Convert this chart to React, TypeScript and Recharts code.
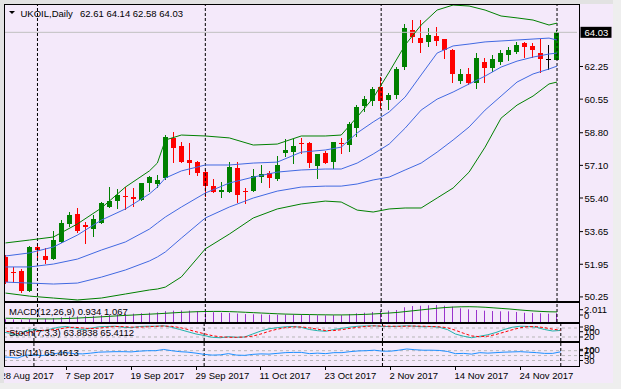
import { ComposedChart, Bar, Line, XAxis, YAxis, ReferenceLine } from "recharts";

const BG = "#F4E9FA";
const UP = "#008000";
const DOWN = "#FF0000";
const BAND_OUT = "#008000";
const BAND_IN = "#4169E1";
const HIST = "#9932CC";
const LEVEL = "#B8B8B8";
const FONT = "'Liberation Sans', Arial, sans-serif";
const FS = 9.5;

// UKOIL daily, 28 Aug 2017 .. 1 Dec 2017
const opens = [52.33, 51.57, 51.6, 50.56, 52.85, 52.38, 52.22, 53.11, 54.05, 54.57,
  53.97, 53.79, 54.1, 54.93, 55.24, 55.48, 55.43, 55.29, 56.18, 56.13,
  56.44, 58.52, 58.11, 57.38, 57.27, 56.75, 56.02, 55.71, 55.71, 56.96,
  55.74, 55.76, 56.49, 56.7, 56.39, 57.74, 57.79, 58.24, 58.26, 57.07,
  57.74, 57.27, 58.24, 58.16, 59.04, 60.19, 60.45, 61.18, 60.5, 60.76,
  62.22, 64.15, 63.73, 63.53, 63.84, 63.68, 63.11, 61.49, 61.86, 61.39,
  62.48, 62.17, 62.48, 62.85, 63.0, 63.47, 63.32, 62.95, 62.64, 62.61];
const highs = [52.43, 51.81, 51.7, 52.9, 53.0, 52.8, 53.68, 54.25, 54.67, 54.88,
  54.15, 54.51, 55.19, 55.97, 55.87, 55.97, 55.92, 56.2, 56.55, 56.6,
  58.68, 58.84, 58.32, 58.26, 57.33, 56.86, 56.39, 56.23, 57.27, 57.27,
  55.92, 56.91, 57.12, 56.81, 57.59, 58.47, 58.47, 58.52, 58.32, 57.71,
  57.85, 58.34, 58.52, 59.36, 60.24, 60.71, 61.18, 61.7, 60.87, 62.22,
  64.46, 64.67, 64.67, 64.25, 64.3, 63.7, 63.16, 62.12, 62.17, 62.95,
  62.69, 62.85, 63.11, 63.26, 63.53, 63.53, 63.47, 63.68, 63.37, 64.14];
const lows = [50.92, 50.97, 50.45, 50.5, 52.27, 51.96, 52.17, 53.06, 53.89, 53.58,
  53.0, 53.37, 54.05, 54.88, 54.83, 54.77, 54.93, 55.27, 55.71, 55.92,
  56.34, 57.22, 57.22, 56.6, 56.55, 55.45, 55.66, 55.4, 55.66, 55.14,
  55.09, 55.71, 56.18, 55.92, 56.29, 57.54, 57.17, 57.69, 56.96, 56.39,
  57.17, 56.91, 57.69, 57.79, 58.58, 59.88, 60.19, 60.04, 59.98, 60.55,
  62.07, 63.47, 62.95, 63.26, 63.32, 62.64, 61.39, 61.34, 61.29, 61.08,
  61.39, 61.96, 62.33, 62.54, 62.9, 62.69, 62.69, 61.91, 62.07, 62.58];
const closes = [51.03, 51.52, 50.56, 52.85, 52.69, 52.17, 53.21, 54.1, 54.51, 53.68,
  53.91, 54.3, 55.14, 55.24, 55.55, 55.43, 55.37, 56.18, 56.49, 56.34,
  58.58, 58.0, 57.27, 57.22, 56.7, 56.02, 55.71, 55.81, 57.01, 55.56,
  55.69, 56.55, 56.65, 56.44, 57.12, 57.9, 58.11, 58.19, 57.22, 57.69,
  57.22, 58.32, 58.19, 59.25, 60.14, 60.55, 61.08, 60.45, 60.76, 62.12,
  64.25, 63.79, 63.47, 63.89, 63.58, 63.11, 61.86, 61.86, 61.39, 62.69,
  62.17, 62.64, 62.95, 63.11, 63.37, 63.26, 63.11, 62.64, 62.64, 64.03];

// band values read at these bars
const bandIdx = [0, 3, 6, 9, 12, 15, 18, 19, 20, 22, 25, 28, 31, 34, 37, 40, 42, 44, 46, 48,
  50, 52, 54, 56, 58, 60, 62, 64, 66, 68, 69];
const outerUpper = [53.06, 53.21, 53.37, 54.05, 54.88, 55.97, 56.81, 57.22, 58.42, 58.68, 58.63,
  58.53, 58.16, 58.21, 58.63, 58.63, 58.68, 59.62, 60.61, 61.96, 63.37, 64.41, 65.19, 65.45,
  65.4, 65.19, 64.88, 64.78, 64.67, 64.41, 64.51];
const innerUpper = [52.38, 52.54, 52.85, 53.47, 54.25, 54.83, 55.61, 55.97, 56.44, 56.81, 57.12,
  57.12, 57.22, 57.27, 57.79, 57.9, 58.05, 58.79, 59.36, 59.88, 60.66, 61.81, 62.95, 63.32,
  63.42, 63.53, 63.58, 63.63, 63.68, 63.73, 63.63];
const middleBand = [51.81, 51.81, 51.96, 52.22, 52.69, 53.11, 53.78, 54.1, 54.41, 54.93, 55.66,
  56.18, 56.49, 56.75, 56.86, 56.91, 56.91, 57.22, 57.69, 58.21, 59.04, 59.98, 60.55, 60.92,
  61.34, 61.75, 62.22, 62.53, 62.74, 62.9, 62.95];
const innerLower = [51.02, 50.97, 50.92, 50.97, 51.28, 51.65, 52.12, 52.33, 52.59, 53.31, 54.36,
  54.93, 55.4, 55.76, 55.97, 56.02, 56.02, 56.13, 56.34, 56.49, 56.86, 57.22, 57.79, 58.42,
  59.1, 59.98, 60.71, 61.44, 61.86, 62.12, 62.27];
const outerLower = [50.45, 50.29, 50.19, 50.09, 50.19, 50.4, 50.61, 50.66, 50.76, 51.29, 52.75,
  53.52, 54.36, 54.83, 55.09, 55.24, 55.19, 54.77, 54.67, 54.83, 54.88, 54.88, 55.4, 55.92,
  56.75, 58.05, 59.56, 60.24, 60.71, 61.34, 61.44];

const macdHist = [0.3, 0.28, 0.25, 0.3, 0.35, 0.37, 0.42, 0.5, 0.57, 0.6,
  0.62, 0.65, 0.72, 0.78, 0.83, 0.86, 0.88, 0.93, 0.98, 1.02,
  1.15, 1.2, 1.22, 1.2, 1.16, 1.1, 1.04, 0.98, 0.96, 0.9,
  0.84, 0.82, 0.8, 0.77, 0.77, 0.79, 0.8, 0.8, 0.74, 0.71,
  0.7, 0.72, 0.72, 0.85, 0.92, 0.98, 1.06, 1.16, 1.2, 1.27,
  1.56, 1.69, 1.72, 1.77, 1.8, 1.72, 1.62, 1.45, 1.34, 1.27,
  1.2, 1.16, 1.13, 1.13, 1.06, 0.98, 0.95, 0.92, 0.88, 0.934];
const macdSignal = [0.4, 0.38, 0.36, 0.34, 0.33, 0.33, 0.33, 0.35, 0.38, 0.42,
  0.46, 0.5, 0.55, 0.6, 0.65, 0.7, 0.74, 0.79, 0.83, 0.87,
  0.92, 0.97, 1.02, 1.06, 1.09, 1.11, 1.12, 1.12, 1.1, 1.07,
  1.03, 0.99, 0.95, 0.91, 0.87, 0.84, 0.82, 0.8, 0.79, 0.77,
  0.76, 0.75, 0.75, 0.76, 0.78, 0.81, 0.85, 0.9, 0.95, 1.01,
  1.1, 1.19, 1.28, 1.37, 1.46, 1.53, 1.58, 1.61, 1.62, 1.6,
  1.56, 1.5, 1.44, 1.38, 1.3, 1.23, 1.17, 1.12, 1.08, 1.067];
const stochMain = [55, 45, 30, 62, 70, 60, 72, 85, 90, 80,
  70, 78, 88, 90, 92, 85, 82, 90, 92, 92,
  95, 85, 70, 55, 40, 30, 18, 15, 22, 18,
  20, 40, 60, 75, 82, 88, 90, 84, 70, 62,
  58, 70, 78, 86, 92, 94, 95, 90, 90, 92,
  95, 92, 88, 90, 85, 70, 40, 25, 15, 25,
  35, 50, 70, 85, 92, 90, 85, 70, 60, 63.88];
const stochSignal = [62, 55, 43, 46, 54, 64, 67, 72, 82, 85,
  80, 76, 79, 85, 90, 89, 86, 86, 88, 91,
  93, 91, 83, 70, 55, 42, 29, 21, 18, 18,
  20, 26, 40, 58, 72, 82, 87, 87, 81, 72,
  63, 63, 69, 78, 85, 91, 94, 93, 92, 91,
  92, 93, 92, 90, 88, 82, 65, 45, 27, 22,
  25, 37, 52, 68, 82, 89, 89, 82, 72, 65.41];
const rsi = [45, 43, 40, 52, 52, 50, 55, 60, 62, 58,
  57, 60, 64, 65, 66, 66, 65, 68, 70, 70,
  75, 70, 66, 64, 60, 55, 52, 53, 58, 52,
  51, 55, 57, 56, 59, 62, 63, 63, 58, 60,
  58, 62, 62, 66, 69, 70, 72, 68, 68, 72,
  77, 74, 72, 72, 71, 67, 58, 59, 56, 62,
  60, 62, 64, 65, 66, 64, 62, 59, 59, 65.46];

const bid = 64.03;
const priceTicks = [50.25, 51.95, 53.65, 55.4, 57.1, 58.8, 60.55, 62.25];
const dateIdx = [0, 8, 16, 24, 32, 40, 48, 56, 64];
const dateLabels = ["28 Aug 2017", "7 Sep 2017", "19 Sep 2017", "29 Sep 2017", "11 Oct 2017",
  "23 Oct 2017", "2 Nov 2017", "14 Nov 2017", "24 Nov 2017"];
const monthStarts = [4, 25, 47, 69];
const macdTicks = [2.011, 0];
const macdTickText = ["2.011", "0"];
const stochTicks = [100, 80, 20];
const stochLevels = [80, 20];
const rsiTicks = [100, 70, 50, 30];
const rsiLevels = [70, 50, 30];

const SLOTS = 72;
const rows = Array.from({ length: SLOTS }, (_, i) => {
  const r: any = { i };
  if (i < opens.length) {
    r.o = opens[i];
    r.h = highs[i];
    r.l = lows[i];
    r.c = closes[i];
    r.hl = [lows[i], highs[i]];
    r.macd = macdHist[i];
    r.sig = macdSignal[i];
    r.k = stochMain[i];
    r.d = stochSignal[i];
    r.rsi = rsi[i];
  }
  const k = bandIdx.indexOf(i);
  if (k >= 0) {
    r.gu = outerUpper[k];
    r.bu = innerUpper[k];
    r.mid = middleBand[k];
    r.bl = innerLower[k];
    r.gl = outerLower[k];
  }
  return r;
});

const Candle = (p: any) => {
  const { x, y, width, height, payload } = p;
  if (!payload || payload.o == null) return null;
  const cx = Math.floor(x + width / 2);
  const top = Math.min(y, y + height);
  const bot = Math.max(y, y + height);
  const { o, h, l, c } = payload;
  const span = h - l || 1;
  const py = (v: number) => top + ((h - v) / span) * (bot - top);
  const col = c > o ? UP : c < o ? DOWN : "#000";
  const bTop = Math.round(py(Math.max(o, c)));
  const bBot = Math.round(py(Math.min(o, c)));
  return (
    <g>
      <rect x={cx} y={Math.round(top)} width={1} height={Math.max(1, Math.round(bot) - Math.round(top))} fill={col} />
      <rect x={cx - 2} y={bTop} width={5} height={Math.max(1, bBot - bTop)} fill={col} />
    </g>
  );
};

const HistBar = (p: any) => {
  const { x, y, width, height } = p;
  if (height == null) return null;
  const cx = Math.floor(x + width / 2);
  return <rect x={cx} y={Math.min(y, y + height)} width={1} height={Math.abs(height)} fill={HIST} />;
};

const PriceTick = (p: any) => {
  const v = p.payload.value;
  const { x, y } = p;
  if (v === bid) {
    return (
      <g>
        <rect x={x + 3.5} y={y - 5.5} width={31} height={11} fill="#000" />
        <text x={x + 7.5} y={y + 3.5} fill="#fff" fontSize={FS} fontFamily={FONT}>{v.toFixed(2)}</text>
      </g>
    );
  }
  return (
    <g>
      <line x1={x + 2.5} x2={x + 6} y1={y} y2={y} stroke="#000" />
      <text x={x + 7.5} y={y + 3.5} fill="#000" fontSize={FS} fontFamily={FONT}>{v.toFixed(2)}</text>
    </g>
  );
};

// side labels of the indicator windows: top one hangs below the top edge
const makeSideTick = (ticks: number[], text: string[], nudge: number[]) => (p: any) => {
  const k = ticks.indexOf(p.payload.value);
  if (k < 0) return <g />;
  const ty = p.y + nudge[k];
  return (
    <g>
      <line x1={p.x + 2.5} x2={p.x + 6} y1={ty} y2={ty} stroke="#000" />
      <text x={p.x + 7} y={ty + 3.5} fill="#000" fontSize={FS} fontFamily={FONT}>{text[k]}</text>
    </g>
  );
};
const MacdTick = makeSideTick(macdTicks, macdTickText, [6.7, -7]);
const StochTick = makeSideTick(stochTicks, stochTicks.map(String), [6.7, -1, 0]);
const RsiTick = makeSideTick(rsiTicks, rsiTicks.map(String), [6, 0, 0, 0]);

const DateTick = (p: any) => {
  const k = dateIdx.indexOf(p.payload.value);
  if (k < 0) return <g />;
  const x = Math.floor(p.x) + 0.5;
  return (
    <g>
      <line x1={x} x2={x} y1={p.y - 4} y2={p.y} stroke="#000" />
      <text x={x - 1} y={p.y + 9} fill="#000" fontSize={FS} fontFamily={FONT}>{dateLabels[k]}</text>
    </g>
  );
};

const separators = monthStarts.map((m) => (
  <ReferenceLine key={m} x={m} stroke="#000" strokeDasharray="3 2" />
));

const MARGIN = { top: 0, right: 0, bottom: 0, left: 1.5 };

const App = () => {
  return (
    <div style={{ position: "relative", width: 621, height: 389, background: BG, overflow: "hidden", fontFamily: FONT }}>
      <style>{`body{margin:0} .recharts-surface{overflow:visible}`}</style>

      <div style={{ position: "absolute", left: 0, top: 0 }}>
        <ComposedChart width={621} height={301} data={rows} margin={{ ...MARGIN, top: 5 }}>
          <XAxis dataKey="i" type="category" hide />
          <YAxis orientation="right" width={44} domain={[50.036, 65.453]} allowDataOverflow
            ticks={[...priceTicks, bid]} interval={0} tickSize={0} tickMargin={0} axisLine={false}
            tickLine={false} tick={<PriceTick />} />
          <ReferenceLine y={bid} stroke="#C0C0C0" />
          {separators}
          <Line dataKey="gu" stroke={BAND_OUT} strokeWidth={1} dot={false} connectNulls isAnimationActive={false} />
          <Line dataKey="bu" stroke={BAND_IN} strokeWidth={1} dot={false} connectNulls isAnimationActive={false} />
          <Line dataKey="mid" stroke={BAND_IN} strokeWidth={1} dot={false} connectNulls isAnimationActive={false} />
          <Line dataKey="bl" stroke={BAND_IN} strokeWidth={1} dot={false} connectNulls isAnimationActive={false} />
          <Line dataKey="gl" stroke={BAND_OUT} strokeWidth={1} dot={false} connectNulls isAnimationActive={false} />
          <Bar dataKey="hl" shape={Candle} isAnimationActive={false} />
        </ComposedChart>
      </div>

      <div style={{ position: "absolute", left: 0, top: 303 }}>
        <ComposedChart width={621} height={19} data={rows} margin={MARGIN}>
          <XAxis dataKey="i" type="category" hide />
          <YAxis orientation="right" width={44} domain={[0, 2.011]} allowDataOverflow ticks={macdTicks}
            interval={0} tickSize={0} tickMargin={0} axisLine={false} tickLine={false} tick={<MacdTick />} />
          {separators}
          <Bar dataKey="macd" shape={HistBar} isAnimationActive={false} />
          <Line dataKey="sig" stroke={UP} strokeWidth={1} dot={false} isAnimationActive={false} />
        </ComposedChart>
      </div>

      <div style={{ position: "absolute", left: 0, top: 324 }}>
        <ComposedChart width={621} height={17} data={rows} margin={MARGIN}>
          <XAxis dataKey="i" type="category" hide />
          <YAxis orientation="right" width={44} domain={[-6.7, 106.7]} allowDataOverflow ticks={stochTicks}
            interval={0} tickSize={0} tickMargin={0} axisLine={false} tickLine={false} tick={<StochTick />} />
          {stochLevels.map((v) => (
            <ReferenceLine key={v} y={v} stroke={LEVEL} strokeDasharray="3 3" />
          ))}
          {separators}
          <Line dataKey="k" stroke="#20B2AA" strokeWidth={1} dot={false} isAnimationActive={false} />
          <Line dataKey="d" stroke={DOWN} strokeWidth={1} strokeDasharray="3 2" dot={false} isAnimationActive={false} />
        </ComposedChart>
      </div>

      <div style={{ position: "absolute", left: 0, top: 343 }}>
        <ComposedChart width={621} height={40} data={rows} margin={MARGIN}>
          <XAxis dataKey="i" type="category" height={17} interval={0} tickSize={4} tickMargin={0}
            axisLine={false} tickLine={false} tick={<DateTick />} />
          <YAxis orientation="right" width={44} domain={[7.5, 101.4]} allowDataOverflow ticks={rsiTicks}
            interval={0} tickSize={0} tickMargin={0} axisLine={false} tickLine={false} tick={<RsiTick />} />
          {rsiLevels.map((v) => (
            <ReferenceLine key={v} y={v} stroke={LEVEL} strokeDasharray="3 3" />
          ))}
          {separators}
          <Line dataKey="rsi" stroke="#1E90FF" strokeWidth={1} dot={false} isAnimationActive={false} />
        </ComposedChart>
      </div>

      <svg width={621} height={389} style={{ position: "absolute", left: 0, top: 0, pointerEvents: "none" }}>
        <rect x={0} y={0} width={621} height={4} fill="#E2E2E2" />
        <rect x={0} y={0} width={4} height={389} fill="#E2E2E2" />
        <rect x={613} y={0} width={8} height={389} fill="#EEEEEE" />
        <rect x={0} y={383} width={621} height={6} fill="#EEEEEE" />
        <g stroke="#000" strokeWidth={1}>
          <line x1={4} x2={580} y1={4.5} y2={4.5} />
          <line x1={4.5} x2={4.5} y1={4} y2={367} />
          <line x1={579.5} x2={579.5} y1={4} y2={367} />
          {[301.5, 302.5, 322.5, 323.5, 341.5, 342.5, 366.5].map((yy) => (
            <line key={yy} x1={4} x2={580} y1={yy} y2={yy} />
          ))}
        </g>
        <polygon points="9,11 15,11 12,14" fill="#000" />
        <text x={20.5} y={16.5} fontSize={FS} fontFamily={FONT} fill="#000">UKOIL,Daily</text>
        <text x={80} y={16.5} fontSize={FS} fontFamily={FONT} fill="#000">62.61 64.14 62.58 64.03</text>
        <text x={9} y={315} fontSize={FS} fontFamily={FONT} fill="#000">MACD(12,26,9) 0.934 1.067</text>
        <text x={9} y={336} fontSize={FS} fontFamily={FONT} fill="#000">Stoch(7,3,3) 63.8838 65.4112</text>
        <text x={9} y={355.5} fontSize={FS} fontFamily={FONT} fill="#000">RSI(14) 65.4613</text>
      </svg>
    </div>
  );
};

export default App;
